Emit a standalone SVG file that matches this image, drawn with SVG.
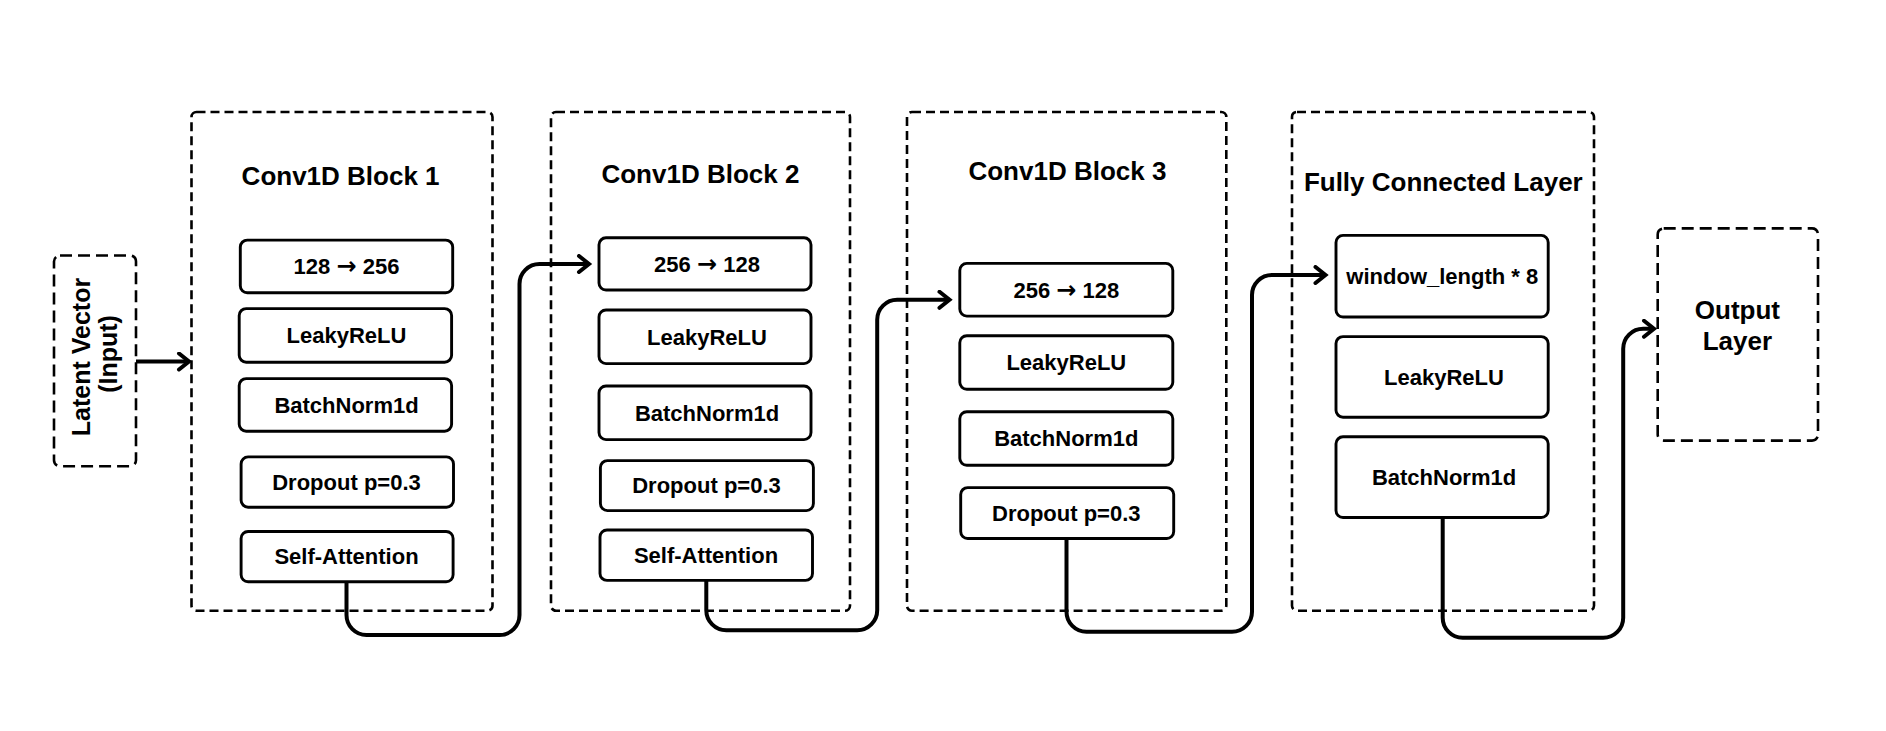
<svg xmlns="http://www.w3.org/2000/svg" width="1886" height="731" viewBox="0 0 1886 731">
<style>
.blk{fill:none;stroke:#000;stroke-width:2.6;stroke-dasharray:9 5}
.io{fill:none;stroke:#000;stroke-width:2.6;stroke-dasharray:12 6}
.box{fill:#fff;stroke:#000;stroke-width:2.9}
.t{font-family:"Liberation Sans",Arial,sans-serif;font-weight:bold;fill:#000;text-anchor:middle}
.ti{font-size:26px}
.lb{font-size:22px}
.ar{font-family:"DejaVu Sans",sans-serif;font-size:24px;font-weight:bold}
.c{fill:none;stroke:#000;stroke-width:4;stroke-linejoin:round}
</style>
<defs>
<marker id="ah" markerUnits="userSpaceOnUse" markerWidth="20" markerHeight="20" viewBox="-14 -10 16 20" refX="0" refY="0" orient="auto">
<path d="M-10,-8 L0,0 L-10,8" fill="none" stroke="#000" stroke-width="4" stroke-linecap="round" stroke-linejoin="miter"/>
</marker>
</defs>
<rect width="1886" height="731" fill="#fff"/>

<g id="latent">
<rect class="io" x="54" y="255.5" width="82" height="210.7" rx="6"/>
<text class="t ti" transform="translate(90,357) rotate(-90)" style="font-size:25px">Latent Vector</text>
<text class="t ti" transform="translate(117,354) rotate(-90)" style="font-size:25px">(Input)</text>
</g>

<g id="block1">
<rect class="blk" x="191.5" y="112" width="301" height="498.7" rx="5"/>
<text class="t ti" x="340.6" y="185">Conv1D Block 1</text>
<g id="b1-lin"><rect class="box" x="240.3" y="240.1" width="212.4" height="52.7" rx="7"/><text class="t lb" x="346.5" y="274.3">128 <tspan class="ar">→</tspan> 256</text></g>
<g id="b1-relu"><rect class="box" x="239.2" y="308.6" width="212.4" height="53.6" rx="7"/><text class="t lb" x="346.5" y="343.2">LeakyReLU</text></g>
<g id="b1-bn"><rect class="box" x="239.2" y="378.6" width="212.4" height="52.6" rx="7"/><text class="t lb" x="346.5" y="412.7">BatchNorm1d</text></g>
<g id="b1-drop"><rect class="box" x="241.1" y="456.9" width="212.4" height="50.3" rx="7"/><text class="t lb" x="346.5" y="489.8">Dropout p=0.3</text></g>
<g id="b1-att"><rect class="box" x="241.1" y="531.5" width="212" height="50.3" rx="7"/><text class="t lb" x="346.5" y="564.4">Self-Attention</text></g>
</g>

<g id="block2">
<rect class="blk" x="551" y="112" width="299" height="498.7" rx="5"/>
<text class="t ti" x="700.4" y="183.2">Conv1D Block 2</text>
<g id="b2-lin"><rect class="box" x="599" y="237.8" width="212" height="52.2" rx="7"/><text class="t lb" x="707" y="271.8">256 <tspan class="ar">→</tspan> 128</text></g>
<g id="b2-relu"><rect class="box" x="599" y="310" width="212" height="53.6" rx="7"/><text class="t lb" x="707" y="344.6">LeakyReLU</text></g>
<g id="b2-bn"><rect class="box" x="599" y="386" width="212" height="53.6" rx="7"/><text class="t lb" x="707" y="420.6">BatchNorm1d</text></g>
<g id="b2-drop"><rect class="box" x="600.4" y="460.6" width="213" height="50" rx="7"/><text class="t lb" x="706.5" y="493.4">Dropout p=0.3</text></g>
<g id="b2-att"><rect class="box" x="600" y="530" width="212.5" height="50.4" rx="7"/><text class="t lb" x="706" y="563">Self-Attention</text></g>
</g>

<g id="block3">
<rect class="blk" x="907" y="112" width="319.3" height="498.7" rx="5"/>
<text class="t ti" x="1067.4" y="179.5">Conv1D Block 3</text>
<g id="b3-lin"><rect class="box" x="959.8" y="263.4" width="213" height="52.7" rx="7"/><text class="t lb" x="1066.3" y="297.6">256 <tspan class="ar">→</tspan> 128</text></g>
<g id="b3-relu"><rect class="box" x="959.8" y="335.7" width="213" height="53.6" rx="7"/><text class="t lb" x="1066.3" y="370.3">LeakyReLU</text></g>
<g id="b3-bn"><rect class="box" x="959.8" y="411.7" width="213" height="53.6" rx="7"/><text class="t lb" x="1066.3" y="446.3">BatchNorm1d</text></g>
<g id="b3-drop"><rect class="box" x="960.7" y="487.6" width="213" height="50.9" rx="7"/><text class="t lb" x="1066.3" y="520.8">Dropout p=0.3</text></g>
</g>

<g id="fc">
<rect class="blk" x="1292" y="112" width="302" height="498.7" rx="5"/>
<text class="t ti" x="1443.3" y="191">Fully Connected Layer</text>
<g id="fc-lin"><rect class="box" x="1336" y="235.4" width="212.2" height="81.6" rx="7"/><text class="t lb" x="1442.3" y="284">window_length * 8</text></g>
<g id="fc-relu"><rect class="box" x="1336" y="336.6" width="212.2" height="80.6" rx="7"/><text class="t lb" x="1444" y="384.7">LeakyReLU</text></g>
<g id="fc-bn"><rect class="box" x="1336" y="436.8" width="212.2" height="80.7" rx="7"/><text class="t lb" x="1444" y="485">BatchNorm1d</text></g>
</g>

<g id="output">
<rect class="io" x="1657.7" y="228.4" width="160.3" height="212.2" rx="6"/>
<text class="t ti" x="1737.4" y="319.3">Output</text>
<text class="t ti" x="1737.4" y="349.7">Layer</text>
</g>

<g id="connectors">
<path class="c" d="M136,361.5 H189" marker-end="url(#ah)"/>
<path class="c" d="M346.5,582 V615 A20,20 0 0 0 366.5,635 H499.5 A20,20 0 0 0 519.5,615 V284 A20,20 0 0 1 539.5,264 H589" marker-end="url(#ah)"/>
<path class="c" d="M706.3,580.4 V610.3 A20,20 0 0 0 726.3,630.3 H857.2 A20,20 0 0 0 877.2,610.3 V319.8 A20,20 0 0 1 897.2,299.8 H949.5" marker-end="url(#ah)"/>
<path class="c" d="M1066.5,538.5 V611.7 A20,20 0 0 0 1086.5,631.7 H1232 A20,20 0 0 0 1252,611.7 V295 A20,20 0 0 1 1272,275 H1325.5" marker-end="url(#ah)"/>
<path class="c" d="M1442.7,517.5 V617.8 A20,20 0 0 0 1462.7,637.8 H1603.2 A20,20 0 0 0 1623.2,617.8 V348.7 A20,20 0 0 1 1643.2,328.7 H1654" marker-end="url(#ah)"/>
</g>
</svg>
